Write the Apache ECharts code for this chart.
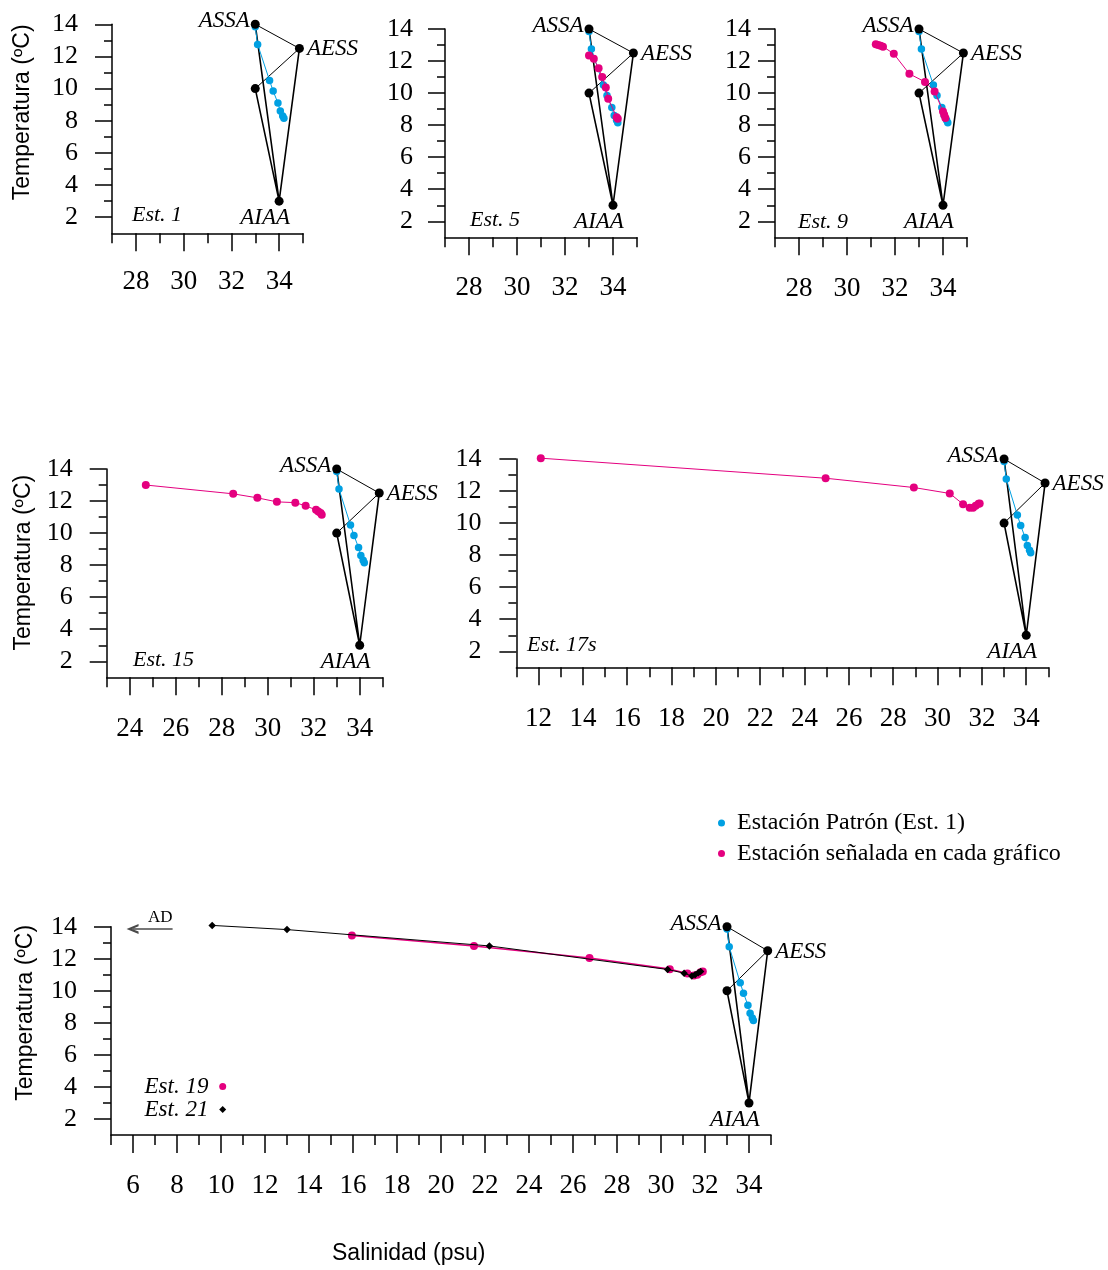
<!DOCTYPE html>
<html>
<head>
<meta charset="utf-8">
<script src="https://cdn.jsdelivr.net/npm/echarts@6/dist/echarts.min.js"></script>
<style>
html,body{margin:0;padding:0;background:#ffffff;}
#chart{width:1108px;height:1270px;}
</style>
</head>
<body>
<div id="chart"></div>
<script>
// ---------------- DATA ----------------
// Water-mass reference points (salinity psu, temperature ºC)
const massNames = ['ASSA', 'AESS', 'AIAA', ''];
const massS = [33.0, 34.85, 34.0, 33.0];
const massT = [14.0, 12.5, 3.0, 10.0];
// order in which the water-mass points are joined
const massThickOrder = [0, 2, 1, 2, 3];
const massThinOrder = [0, 1, 3];

// Standard station (Est. 1)
const est1S = [33.0, 33.1, 33.6, 33.75, 33.95, 34.05, 34.15, 34.2];
const est1T = [13.85, 12.75, 10.5, 9.85, 9.1, 8.6, 8.3, 8.15];

// Stations highlighted in each panel
const est5S = [33.0, 33.2, 33.4, 33.55, 33.7, 33.8, 34.15, 34.2];
const est5T = [12.35, 12.15, 11.55, 11.0, 10.35, 9.65, 8.5, 8.4];

const est9S = [31.2, 31.3, 31.4, 31.5, 31.95, 32.6, 33.25, 33.65, 34.0, 34.05, 34.1];
const est9T = [13.05, 13.0, 12.95, 12.9, 12.45, 11.2, 10.7, 10.1, 8.85, 8.65, 8.45];

const est15S = [24.7, 28.5, 29.55, 30.4, 31.2, 31.65, 32.1, 32.2, 32.3, 32.35];
const est15T = [13.0, 12.45, 12.2, 11.95, 11.9, 11.7, 11.45, 11.35, 11.25, 11.15];

const est17sS = [12.1, 24.95, 28.93, 30.55, 31.15, 31.45, 31.6, 31.72, 31.85, 31.9];
const est17sT = [14.05, 12.8, 12.22, 11.85, 11.18, 10.95, 10.95, 11.08, 11.2, 11.22];

const est19S = [15.95, 21.5, 26.75, 30.4, 31.2, 31.5, 31.65, 31.8, 31.9];
const est19T = [13.45, 12.8, 12.05, 11.35, 11.08, 10.95, 11.0, 11.15, 11.2];

const est21S = [9.6, 13.0, 22.2, 30.3, 31.05, 31.4, 31.55, 31.7, 31.8];
const est21T = [14.08, 13.82, 12.8, 11.33, 11.1, 10.92, 11.0, 11.12, 11.2];

// "AD" arrow (salinity from/to, temperature)
const adArrowS = [5.98, 7.8];
const adArrowT = [13.86, 13.86];

// Tick values
const yMajor = [2, 4, 6, 8, 10, 12, 14];
const yMinor = [3, 5, 7, 9, 11, 13];
const xMajor27 = [28, 30, 32, 34];
const xMinor27 = [27, 29, 31, 33, 35];
const xMajor23 = [24, 26, 28, 30, 32, 34];
const xMinor23 = [23, 25, 27, 29, 31, 33, 35];
const xMajor11 = [12, 14, 16, 18, 20, 22, 24, 26, 28, 30, 32, 34];
const xMinor11 = [11, 13, 15, 17, 19, 21, 23, 25, 27, 29, 31, 33, 35];
const xMajor5 = [6, 8, 10, 12, 14, 16, 18, 20, 22, 24, 26, 28, 30, 32, 34];
const xMinor5 = [5, 7, 9, 11, 13, 15, 17, 19, 21, 23, 25, 27, 29, 31, 33, 35];

// Texts
const NAME_STD = 'Estación Patrón (Est. 1)';
const NAME_SEL = 'Estación señalada en cada gráfico';
const Y_TITLE = 'Temperatura (ºC)';
const X_TITLE = 'Salinidad (psu)';

// ---------------- STYLE / LAYOUT ----------------
const SERIF = '"Liberation Serif","Times New Roman",Times,serif';
const SANS = '"Liberation Sans",Arial,Helvetica,sans-serif';
const INK = '#000000';
const CYAN = '#00A0E2';
const MAGENTA = '#E4007F';
const CHEVRON = 'path://M0,10 L5,0 L10,10 L7.6,10 L5,4.6 L2.4,10 Z';

const zip = (a, b) => a.map((v, i) => [v, b[i]]);

const panels = [
  {grid: {left: 112, top: 24.3, width: 191, height: 209}, x: [27, 35], xMajor: xMajor27, xMinor: xMinor27,
   xLM: 35, yLM: 34, yName: {gap: 78, pad: 33}, tag: {text: 'Est. 1', left: 132, top: 204}, station: null},
  {grid: {left: 445, top: 29, width: 192, height: 208.3}, x: [27, 35], xMajor: xMajor27, xMinor: xMinor27,
   xLM: 37, yLM: 32, yName: null, tag: {text: 'Est. 5', left: 470, top: 209}, station: [est5S, est5T]},
  {grid: {left: 775, top: 29, width: 192, height: 208.3}, x: [27, 35], xMajor: xMajor27, xMinor: xMinor27,
   xLM: 38, yLM: 24, yName: null, tag: {text: 'Est. 9', left: 798, top: 211}, station: [est9S, est9T]},
  {grid: {left: 106.7, top: 469, width: 276, height: 208.3}, x: [23, 35], xMajor: xMajor23, xMinor: xMinor23,
   xLM: 38, yLM: 34, yName: {gap: 72, pad: 21}, tag: {text: 'Est. 15', left: 133, top: 649}, station: [est15S, est15T]},
  {grid: {left: 516.4, top: 459, width: 532, height: 208.3}, x: [11, 35], xMajor: xMajor11, xMinor: xMinor11,
   xLM: 38, yLM: 35, yName: null, tag: {text: 'Est. 17s', left: 527, top: 634}, station: [est17sS, est17sT]},
  {grid: {left: 111, top: 926.7, width: 660, height: 208.3}, x: [5, 35], xMajor: xMajor5, xMinor: xMinor5,
   xLM: 37, yLM: 34, yName: {gap: 74, pad: 36}, tag: null, station: null, last: true}
];

const massLabel = {
  ASSA: {position: 'left', distance: 1, offset: [0, -3]},
  AESS: {position: 'right', distance: 3, offset: [0, 1]},
  AIAA: {position: 'bottom', distance: 1, offset: [-14, 0]}
};

const grids = [], xAxes = [], yAxes = [], series = [], titles = [];

panels.forEach((p, i) => {
  grids.push(Object.assign({}, p.grid));
  const xi = 2 * i, yi = 2 * i;
  const tickStyle = {color: INK, width: 1.5};
  xAxes.push({
    gridIndex: i, type: 'value', position: 'bottom', min: p.x[0], max: p.x[1], splitLine: {show: false},
    axisLine: {show: true, onZero: false, lineStyle: {color: INK, width: 1.5}},
    axisTick: {show: true, customValues: p.xMajor, length: 18, lineStyle: tickStyle},
    axisLabel: {show: true, customValues: p.xMajor, margin: p.xLM, fontFamily: SERIF, fontSize: 27, color: INK}
  });
  xAxes.push({
    gridIndex: i, type: 'value', position: 'bottom', min: p.x[0], max: p.x[1], splitLine: {show: false},
    axisLine: {show: false, onZero: false},
    axisTick: {show: true, customValues: p.xMinor, length: 10, lineStyle: tickStyle},
    axisLabel: {show: false}
  });
  const yMain = {
    gridIndex: i, type: 'value', position: 'left', min: 1, max: 14, splitLine: {show: false},
    axisLine: {show: true, onZero: false, lineStyle: {color: INK, width: 1.5}},
    axisTick: {show: true, customValues: yMajor, length: 17, lineStyle: tickStyle},
    axisLabel: {show: true, customValues: yMajor, margin: p.yLM, fontFamily: SERIF, fontSize: 26, color: INK}
  };
  if (p.yName) {
    Object.assign(yMain, {
      name: Y_TITLE, nameLocation: 'middle', nameGap: p.yName.gap,
      nameTextStyle: {fontFamily: SANS, fontSize: 23, color: INK, padding: [0, 0, 0, p.yName.pad]}
    });
  }
  yAxes.push(yMain);
  yAxes.push({
    gridIndex: i, type: 'value', position: 'left', min: 1, max: 14, splitLine: {show: false},
    axisLine: {show: false, onZero: false},
    axisTick: {show: true, customValues: yMinor, length: 8, lineStyle: tickStyle},
    axisLabel: {show: false}
  });

  // water-mass polygon
  series.push({
    type: 'line', xAxisIndex: xi, yAxisIndex: yi, silent: true, symbol: 'none', z: 2, clip: false,
    data: massThickOrder.map(k => [massS[k], massT[k]]),
    lineStyle: {color: INK, width: 1.6}
  });
  series.push({
    type: 'line', xAxisIndex: xi, yAxisIndex: yi, silent: true, symbol: 'none', z: 2, clip: false,
    data: massThinOrder.map(k => [massS[k], massT[k]]),
    lineStyle: {color: INK, width: 1}
  });
  // standard station
  series.push({
    type: 'line', name: NAME_STD, xAxisIndex: xi, yAxisIndex: yi, z: 3, clip: false,
    data: zip(est1S, est1T), symbol: 'circle', symbolSize: 7.5, showSymbol: true,
    itemStyle: {color: CYAN, opacity: 1}, lineStyle: {color: CYAN, width: 1}
  });
  if (p.station) {
    series.push({
      type: 'line', name: NAME_SEL, xAxisIndex: xi, yAxisIndex: yi, z: 4, clip: false,
      data: zip(p.station[0], p.station[1]), symbol: 'circle', symbolSize: 8, showSymbol: true,
      itemStyle: {color: MAGENTA, opacity: 1}, lineStyle: {color: MAGENTA, width: 1}
    });
  }
  if (p.last) {
    series.push({
      type: 'line', name: 'Est. 19', xAxisIndex: xi, yAxisIndex: yi, z: 4, clip: false,
      data: zip(est19S, est19T), symbol: 'circle', symbolSize: 8, showSymbol: true,
      itemStyle: {color: MAGENTA, opacity: 1}, lineStyle: {color: MAGENTA, width: 1.6}
    });
    series.push({
      type: 'line', name: 'Est. 21', xAxisIndex: xi, yAxisIndex: yi, z: 5, clip: false,
      data: zip(est21S, est21T), symbol: 'diamond', symbolSize: 7.5, showSymbol: true,
      itemStyle: {color: INK, opacity: 1}, lineStyle: {color: INK, width: 1},
      markLine: {
        silent: true, symbol: [CHEVRON, 'none'], symbolSize: [10, 12], animation: false,
        lineStyle: {color: '#4a4a4a', width: 1.5, type: 'solid'},
        label: {show: true, position: 'insideEndTop', formatter: 'AD', distance: [0, 3],
                fontFamily: SERIF, fontSize: 17, color: INK},
        data: [[{coord: [adArrowS[0], adArrowT[0]]}, {coord: [adArrowS[1], adArrowT[1]]}]]
      }
    });
  }
  // water-mass points with labels
  series.push({
    type: 'scatter', xAxisIndex: xi, yAxisIndex: yi, z: 6, silent: true, clip: false,
    symbol: 'circle', symbolSize: 9, itemStyle: {color: INK, opacity: 1},
    data: massNames.map((n, k) => ({
      value: [massS[k], massT[k]], name: n,
      label: n ? Object.assign({show: true, formatter: '{b}', fontFamily: SERIF, fontStyle: 'italic',
        fontSize: 23, color: INK}, massLabel[n]) : {show: false}
    }))
  });

  if (p.tag) {
    titles.push({
      text: p.tag.text, left: p.tag.left, top: p.tag.top, padding: 0,
      textStyle: {fontFamily: SERIF, fontStyle: 'italic', fontWeight: 'normal', fontSize: 22, color: INK}
    });
  }
});

titles.push({
  text: X_TITLE, left: 332, top: 1242, padding: 0,
  textStyle: {fontFamily: SANS, fontWeight: 'normal', fontSize: 23, color: INK}
});

const option = {
  animation: false,
  backgroundColor: '#ffffff',
  textStyle: {fontFamily: SERIF},
  title: titles,
  legend: [
    {
      data: [{name: NAME_STD, icon: 'circle'}, {name: NAME_SEL, icon: 'circle'}],
      orient: 'vertical', left: 718, top: 811, padding: 0,
      itemWidth: 21, itemHeight: 7, itemGap: 6.6, selectedMode: false,
      textStyle: {fontFamily: SERIF, fontSize: 24, color: INK}
    },
    {
      data: [{name: 'Est. 19', icon: 'circle'}, {name: 'Est. 21', icon: 'diamond'}],
      orient: 'vertical', align: 'right', right: 881.8, top: 1075, padding: 0,
      itemWidth: 7, itemHeight: 7, itemGap: 0, selectedMode: false,
      formatter: name => name + ' ',
      textStyle: {fontFamily: SERIF, fontStyle: 'italic', fontSize: 23, color: INK}
    }
  ],
  grid: grids,
  xAxis: xAxes,
  yAxis: yAxes,
  series: series
};

const chart = echarts.init(document.getElementById('chart'), null, {renderer: 'canvas'});
chart.setOption(option);
</script>
</body>
</html>
